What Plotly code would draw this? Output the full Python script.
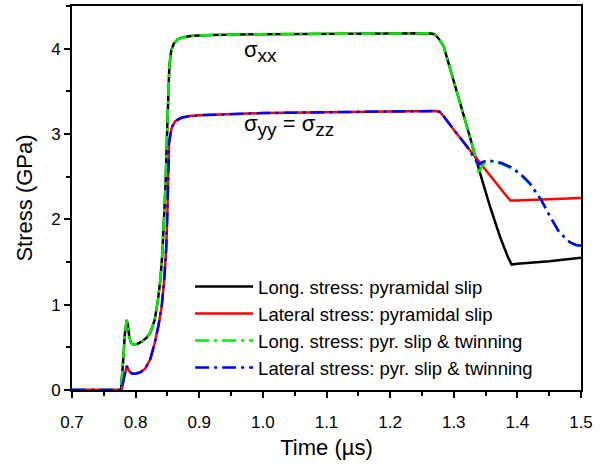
import plotly.graph_objects as go

# ---- data ----
t_long_pyr = [0.700, 0.777, 0.780, 0.783, 0.786, 0.788, 0.790, 0.793, 0.797, 0.803, 0.810, 0.817,
              0.823, 0.830, 0.835, 0.839, 0.842, 0.845, 0.847, 0.849, 0.851, 0.853, 0.856, 0.860,
              0.866, 0.875, 0.890, 0.920, 1.000, 1.100, 1.200, 1.262, 1.270, 1.276, 1.284, 1.300,
              1.315, 1.326, 1.341, 1.357, 1.373, 1.385, 1.391, 1.400, 1.450, 1.500]
s_long_pyr = [0.00, 0.00, 0.30, 0.65, 0.82, 0.75, 0.62, 0.55, 0.53, 0.54, 0.57, 0.61,
              0.67, 0.82, 1.05, 1.30, 1.60, 2.00, 2.40, 2.90, 3.45, 3.80, 3.98, 4.06,
              4.11, 4.135, 4.15, 4.16, 4.17, 4.175, 4.18, 4.18, 4.17, 4.12, 4.03, 3.63,
              3.25, 2.95, 2.55, 2.15, 1.79, 1.56, 1.47, 1.48, 1.51, 1.55]

t_lat_pyr = [0.700, 0.778, 0.781, 0.784, 0.786, 0.788, 0.791, 0.795, 0.800, 0.808, 0.815, 0.823,
             0.830, 0.836, 0.841, 0.845, 0.848, 0.850, 0.8525, 0.8565, 0.862, 0.872, 0.885, 0.900,
             1.000, 1.100, 1.200, 1.270, 1.278, 1.285, 1.300, 1.320, 1.340, 1.360, 1.380, 1.389,
             1.400, 1.450, 1.500]
s_lat_pyr = [0.00, 0.00, 0.12, 0.24, 0.28, 0.25, 0.21, 0.19, 0.19, 0.21, 0.25, 0.36,
             0.55, 0.76, 0.98, 1.30, 1.65, 2.10, 2.90, 3.07, 3.15, 3.19, 3.21, 3.22,
             3.245, 3.255, 3.265, 3.27, 3.26, 3.20, 3.05, 2.86, 2.67, 2.49, 2.30, 2.22,
             2.22, 2.235, 2.25]

t_long_twin = [0.700, 0.777, 0.780, 0.783, 0.786, 0.788, 0.790, 0.793, 0.797, 0.803, 0.810, 0.817,
               0.823, 0.830, 0.835, 0.839, 0.842, 0.845, 0.847, 0.849, 0.851, 0.853, 0.856, 0.860,
               0.866, 0.875, 0.890, 0.920, 1.000, 1.100, 1.200, 1.262, 1.270, 1.276, 1.284, 1.300,
               1.315, 1.326, 1.333, 1.339, 1.341, 1.344, 1.350, 1.355, 1.365, 1.375, 1.390, 1.404,
               1.420, 1.438, 1.451, 1.464, 1.475, 1.483, 1.492, 1.500]
s_long_twin = [0.00, 0.00, 0.30, 0.65, 0.82, 0.75, 0.62, 0.55, 0.53, 0.54, 0.57, 0.61,
               0.67, 0.82, 1.05, 1.30, 1.60, 2.00, 2.40, 2.90, 3.45, 3.80, 3.98, 4.06,
               4.11, 4.135, 4.15, 4.16, 4.17, 4.175, 4.18, 4.18, 4.17, 4.12, 4.03, 3.63,
               3.25, 2.95, 2.76, 2.56, 2.57, 2.62, 2.67, 2.68, 2.67, 2.65, 2.60, 2.53,
               2.41, 2.22, 2.04, 1.87, 1.78, 1.73, 1.70, 1.69]

t_lat_twin = [0.700, 0.778, 0.781, 0.784, 0.786, 0.788, 0.791, 0.795, 0.800, 0.808, 0.815, 0.823,
              0.830, 0.836, 0.841, 0.845, 0.848, 0.850, 0.8525, 0.8565, 0.862, 0.872, 0.885, 0.900,
              1.000, 1.100, 1.200, 1.270, 1.278, 1.285, 1.300, 1.320, 1.334, 1.339, 1.345, 1.352,
              1.365, 1.375, 1.390, 1.404, 1.420, 1.438, 1.451, 1.464, 1.475, 1.483, 1.492, 1.500]
s_lat_twin = [0.00, 0.00, 0.12, 0.24, 0.28, 0.25, 0.21, 0.19, 0.19, 0.21, 0.25, 0.36,
              0.55, 0.76, 0.98, 1.30, 1.65, 2.10, 2.90, 3.07, 3.15, 3.19, 3.21, 3.22,
              3.245, 3.255, 3.265, 3.27, 3.26, 3.20, 3.05, 2.86, 2.70, 2.64, 2.67, 2.69,
              2.68, 2.66, 2.61, 2.54, 2.42, 2.22, 2.04, 1.87, 1.78, 1.73, 1.70, 1.69]

series_names = ["Long. stress: pyramidal slip", "Lateral stress: pyramidal slip",
                "Long. stress: pyr. slip & twinning", "Lateral stress: pyr. slip & twinning"]
x_ticks = [0.7, 0.8, 0.9, 1.0, 1.1, 1.2, 1.3, 1.4, 1.5]
x_tick_text = ["0.7", "0.8", "0.9", "1.0", "1.1", "1.2", "1.3", "1.4", "1.5"]
y_ticks = [0, 1, 2, 3, 4]

FONT = "Arial, Liberation Sans, sans-serif"
DASHDOT = "14px,5px,3px,5px"

fig = go.Figure()
fig.add_trace(go.Scatter(x=t_long_pyr, y=s_long_pyr, mode="lines", name=series_names[0],
                         line=dict(color="black", width=2.5)))
fig.add_trace(go.Scatter(x=t_lat_pyr, y=s_lat_pyr, mode="lines", name=series_names[1],
                         line=dict(color="#ff0000", width=2.5)))
fig.add_trace(go.Scatter(x=t_long_twin, y=s_long_twin, mode="lines", name=series_names[2],
                         line=dict(color="#00ee00", width=2.5, dash=DASHDOT)))
fig.add_trace(go.Scatter(x=t_lat_twin, y=s_lat_twin, mode="lines", name=series_names[3],
                         line=dict(color="#0000ff", width=2.5, dash=DASHDOT)))

fig.add_annotation(x=0.967, y=3.97, xref="x", yref="y", xanchor="left", yanchor="middle",
                   showarrow=False, font=dict(family=FONT, size=22, color="black"),
                   text="σ<sub><span style='font-size:19px'>xx</span></sub>")
fig.add_annotation(x=0.967, y=3.10, xref="x", yref="y", xanchor="left", yanchor="middle",
                   showarrow=False, font=dict(family=FONT, size=22, color="black"),
                   text="σ<sub><span style='font-size:19px'>yy</span></sub> = σ<sub><span style='font-size:19px'>zz</span></sub>")

fig.update_layout(
    width=606, height=467,
    margin=dict(l=72, r=25, t=4, b=77),
    paper_bgcolor="white", plot_bgcolor="white",
    font=dict(family=FONT, color="black"),
    showlegend=True,
    legend=dict(x=0.232, y=0.318, xanchor="left", yanchor="top",
                bgcolor="rgba(255,255,255,0)", borderwidth=0,
                font=dict(family=FONT, size=18.5, color="black"),
                itemwidth=58, tracegroupgap=0),
    xaxis=dict(range=[0.7, 1.5], tickmode="array", tickvals=x_ticks, ticktext=x_tick_text,
               ticks="outside", ticklen=6, tickwidth=1.5, tickcolor="black",
               showline=True, linewidth=2, linecolor="black", mirror=True,
               showgrid=False, zeroline=False, ticklabelstandoff=10,
               minor=dict(dtick=0.05, ticks="outside", ticklen=4, tickwidth=1.5, tickcolor="black"),
               tickfont=dict(family=FONT, size=17, color="black"),
               title=dict(text="Time (µs)", font=dict(family=FONT, size=22, color="black"), standoff=8)),
    yaxis=dict(range=[0, 4.5], tickmode="array", tickvals=y_ticks,
               ticks="outside", ticklen=6, tickwidth=1.5, tickcolor="black",
               showline=True, linewidth=2, linecolor="black", mirror=True,
               showgrid=False, zeroline=False,
               minor=dict(dtick=0.5, ticks="outside", ticklen=4, tickwidth=1.5, tickcolor="black"),
               tickfont=dict(family=FONT, size=17, color="black"),
               title=dict(text="Stress (GPa)", font=dict(family=FONT, size=22, color="black"), standoff=12)),
)

fig.write_html("out.html", config={"displayModeBar": False},
               post_script="document.body.style.margin='0px';")
